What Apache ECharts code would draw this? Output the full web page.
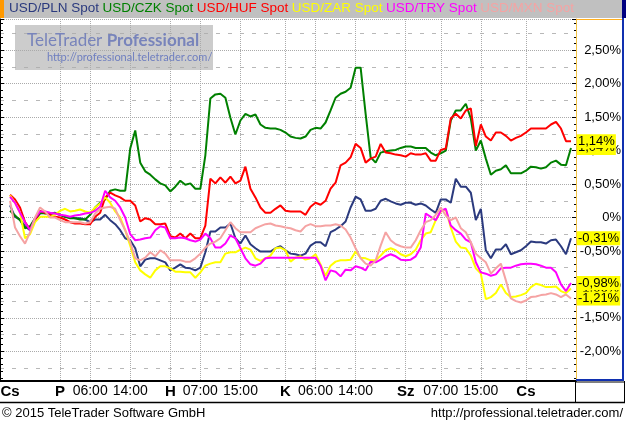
<!DOCTYPE html>
<html>
<head>
<meta charset="utf-8">
<script src="https://cdn.jsdelivr.net/npm/echarts@6/dist/echarts.min.js"></script>
<style>
html,body{margin:0;padding:0;background:#fff;}
#c{width:626px;height:424px;}
</style>
</head>
<body>
<div id="c"></div>
<script>
// ---- categories: hourly timestamps (weekend skipped) ----
const dayRanges = [['Cs', 12, 23], ['P', 0, 21], ['H', 1, 23], ['K', 0, 23], ['Sz', 0, 23], ['Cs', 0, 10]];
const categories = [];
dayRanges.forEach(function (d) {
  for (let h = d[1]; h <= d[2]; h++) categories.push(d[0] + ' ' + (h < 10 ? '0' : '') + h + ':00');
});

// ---- tick labels on the time axis ----
const xTickCats = ['Cs 14:00', 'P 00:00', 'P 06:00', 'P 14:00', 'H 01:00', 'H 07:00', 'H 15:00',
  'K 00:00', 'K 06:00', 'K 14:00', 'Sz 00:00', 'Sz 07:00', 'Sz 15:00', 'Cs 00:00'];
const xTickText = ['Cs', 'P', '06:00', '14:00', 'H', '07:00', '15:00', 'K', '06:00', '14:00', 'Sz', '07:00', '15:00', 'Cs'];
const xGridCats = xTickCats.slice(1);

// ---- series (percent change), first value at 'Cs 14:00' ----
const seriesNames = ['USD/PLN Spot', 'USD/CZK Spot', 'USD/HUF Spot', 'USD/ZAR Spot', 'USD/TRY Spot', 'USD/MXN Spot'];
const seriesColors = ['#2b3a7e', '#008000', '#ff0000', '#ffff00', '#ff00ff', '#f5a3a3'];

const pln = [0.18,0.01,-0.03,-0.13,-0.19,-0.04,0.06,0.07,0.06,0.06,
  0.04,0.01,0.00,-0.01,-0.01,-0.03,-0.07,-0.03,-0.03,0.04,
  -0.04,-0.10,-0.19,-0.31,-0.34,-0.46,-0.73,-0.63,-0.61,-0.61,
  -0.64,-0.67,-0.79,-0.75,-0.70,-0.75,-0.76,-0.79,-0.75,-0.52,
  -0.21,-0.21,-0.15,-0.15,-0.09,-0.31,-0.39,-0.27,-0.40,-0.46,
  -0.51,-0.51,-0.51,-0.46,-0.43,-0.49,-0.54,-0.55,-0.57,-0.54,
  -0.42,-0.37,-0.37,-0.43,-0.22,-0.18,-0.13,-0.06,0.15,0.31,
  0.27,0.10,0.10,0.13,0.25,0.28,0.24,0.21,0.19,0.22,
  0.22,0.19,0.21,0.18,0.12,0.07,0.27,0.27,0.22,0.58,
  0.46,0.46,0.37,-0.04,0.13,-0.49,-0.61,-0.48,-0.48,-0.40,
  -0.55,-0.52,-0.49,-0.43,-0.36,-0.37,-0.37,-0.39,-0.34,-0.33,
  -0.43,-0.55,-0.31];
const czk = [0.10,0.03,-0.04,-0.16,-0.13,-0.01,0.07,0.06,0.06,0.07,
  0.04,0.01,-0.01,-0.01,-0.03,-0.03,0.04,0.15,0.22,0.27,
  0.40,0.42,0.40,0.40,1.03,1.30,0.82,0.69,0.64,0.57,
  0.51,0.48,0.39,0.46,0.55,0.49,0.51,0.43,0.43,0.93,
  1.78,1.84,1.85,1.79,1.49,1.24,1.45,1.55,1.51,1.54,
  1.39,1.34,1.33,1.33,1.31,1.27,1.21,1.19,1.18,1.21,
  1.31,1.34,1.33,1.42,1.60,1.79,1.85,1.88,1.94,2.24,
  2.24,1.55,0.90,0.82,0.97,0.99,1.00,1.01,1.04,1.06,
  1.06,1.04,1.04,1.04,0.97,0.93,0.96,1.00,1.45,1.60,
  1.60,1.70,1.48,1.00,1.15,0.88,0.64,0.70,0.72,0.78,
  0.66,0.66,0.66,0.70,0.76,0.75,0.73,0.75,0.82,0.85,
  0.79,0.78,1.04];
const huf = [0.34,0.27,0.15,-0.07,-0.18,-0.04,0.10,0.07,0.04,0.01,
  0.00,-0.03,-0.07,-0.09,-0.09,-0.10,-0.10,0.01,0.07,0.30,
  0.37,0.33,0.30,0.25,0.25,0.18,-0.06,-0.01,-0.03,-0.10,
  -0.10,-0.09,-0.28,-0.30,-0.24,-0.31,-0.24,-0.31,-0.31,-0.12,
  0.58,0.51,0.60,0.52,0.61,0.51,0.55,0.76,0.43,0.30,
  0.15,0.07,0.07,0.13,0.18,0.10,0.09,0.09,0.09,0.04,
  0.16,0.22,0.19,0.25,0.43,0.52,0.78,0.82,0.90,1.10,
  1.04,0.82,0.88,0.91,1.10,0.97,0.96,0.94,0.93,0.91,
  0.96,0.94,0.94,0.96,0.85,0.85,1.01,1.03,1.48,1.55,
  1.48,1.60,1.63,1.07,1.39,1.21,1.15,1.27,1.27,1.22,
  1.15,1.19,1.22,1.27,1.33,1.33,1.33,1.33,1.39,1.43,
  1.33,1.14,1.14];
const zar = [0.33,0.22,0.07,-0.31,-0.25,-0.07,0.01,0.01,0.01,0.04,
  0.10,0.13,0.09,0.10,0.12,0.09,0.07,0.15,0.21,0.30,
  0.22,0.09,0.00,-0.19,-0.42,-0.67,-0.79,-0.85,-0.90,-0.79,
  -0.73,-0.73,-0.76,-0.81,-0.81,-0.82,-0.82,-0.90,-0.82,-0.72,
  -0.69,-0.67,-0.67,-0.54,-0.52,-0.52,-0.48,-0.45,-0.48,-0.61,
  -0.65,-0.61,-0.57,-0.46,-0.45,-0.49,-0.66,-0.60,-0.58,-0.63,
  -0.61,-0.55,-0.70,-0.87,-0.72,-0.66,-0.64,-0.64,-0.63,-0.51,
  -0.60,-0.61,-0.64,-0.64,-0.57,-0.49,-0.46,-0.49,-0.55,-0.58,
  -0.55,-0.48,-0.34,-0.24,-0.22,-0.04,0.09,0.12,-0.15,-0.36,
  -0.45,-0.46,-0.57,-0.76,-0.84,-1.22,-1.19,-1.13,-1.00,-1.13,
  -1.19,-1.18,-1.16,-1.13,-1.04,-0.99,-1.01,-1.04,-1.04,-1.03,
  -1.10,-1.13,-1.06];
const tryv = [0.31,0.22,0.07,-0.07,-0.19,-0.01,0.09,0.09,0.07,0.06,
  0.04,0.03,0.01,0.03,0.04,0.06,0.07,0.10,0.16,0.40,
  0.30,0.25,0.15,0.00,-0.25,-0.34,-0.33,-0.31,-0.30,-0.19,
  -0.13,-0.15,-0.31,-0.31,-0.30,-0.31,-0.34,-0.36,-0.33,-0.24,
  -0.31,-0.45,-0.45,-0.39,-0.27,-0.31,-0.46,-0.61,-0.70,-0.72,
  -0.69,-0.61,-0.60,-0.60,-0.60,-0.60,-0.60,-0.60,-0.60,-0.60,
  -0.60,-0.60,-0.72,-0.94,-0.79,-0.81,-0.88,-0.78,-0.79,-0.73,
  -0.75,-0.79,-0.66,-0.67,-0.63,-0.58,-0.55,-0.58,-0.63,-0.64,
  -0.63,-0.58,-0.45,0.06,0.01,-0.04,0.10,0.13,-0.12,-0.19,
  -0.24,-0.33,-0.37,-0.67,-0.82,-0.84,-0.87,-0.85,-0.76,-0.75,
  -0.75,-0.72,-0.70,-0.69,-0.69,-0.70,-0.72,-0.75,-0.75,-0.82,
  -1.00,-1.10,-0.98];
const mxn = [0.25,-0.15,-0.28,-0.39,-0.22,0.00,0.15,0.09,0.00,0.00,
  -0.04,-0.07,-0.07,-0.07,-0.07,-0.09,-0.07,0.06,0.13,0.15,
  0.16,0.13,-0.04,-0.19,-0.37,-0.61,-0.64,-0.60,-0.52,-0.58,
  -0.49,-0.54,-0.64,-0.64,-0.64,-0.66,-0.66,-0.61,-0.54,-0.45,
  -0.39,-0.36,-0.31,-0.19,-0.07,-0.16,-0.22,-0.22,-0.22,-0.16,
  -0.13,-0.10,-0.09,-0.12,-0.13,-0.15,-0.16,-0.19,-0.21,-0.13,
  -0.10,-0.13,-0.13,-0.12,-0.12,-0.10,-0.12,-0.18,-0.30,-0.46,
  -0.61,-0.69,-0.72,-0.64,-0.42,-0.22,-0.34,-0.40,-0.43,-0.45,
  -0.45,-0.34,-0.19,-0.07,-0.04,0.04,0.15,0.03,-0.04,0.00,
  -0.16,-0.22,-0.37,-0.54,-0.61,-0.67,-0.84,-0.76,-0.69,-0.94,
  -1.21,-1.25,-1.27,-1.24,-1.19,-1.18,-1.16,-1.15,-1.13,-1.15,
  -1.19,-1.15,-1.21];
const seriesValues = [pln, czk, huf, zar, tryv, mxn];
const firstCat = 'Cs 14:00';

// ---- value axis range (percent) ----
const yMin = -2.444, yMax = 2.967;

function fmtPct(v) {
  if (Math.abs(v) < 1e-9) return '0%';
  return v.toFixed(2).replace('.', ',') + '%';
}

const FONT = 'Liberation Sans, Arial, sans-serif';
const labelMap = {};
xTickCats.forEach(function (c, i) { labelMap[c] = xTickText[i]; });
const gridSet = {};
xGridCats.forEach(function (c) { gridSet[c] = true; });
const startIdx = categories.indexOf(firstCat);

const chart = echarts.init(document.getElementById('c'), null, { renderer: 'canvas' });

const series = seriesNames.map(function (name, i) {
  const data = [];
  for (let k = 0; k < startIdx; k++) data.push(null);
  seriesValues[i].forEach(function (v) { data.push(v); });
  return {
    name: name,
    type: 'line',
    data: data,
    yAxisIndex: 0,
    symbol: 'none',
    showSymbol: false,
    lineStyle: { width: 2, color: seriesColors[i] },
    itemStyle: { color: seriesColors[i] },
    emphasis: { disabled: true },
    z: 2 + i,
    endLabel: {
      show: true,
      formatter: function (p) { return fmtPct(p.value); },
      backgroundColor: '#ffff00',
      color: '#000',
      fontFamily: FONT,
      fontSize: 13,
      padding: [1, 1, 0, 1],
      distance: 6
    }
  };
});

const yCommon = { type: 'value', min: yMin, max: yMax, splitNumber: 10 };

chart.setOption({
  animation: false,
  textStyle: { fontFamily: FONT },
  legend: {
    top: 1, left: 3, padding: 0,
    itemWidth: 0, itemHeight: 0, itemGap: -2.5,
    selectedMode: false,
    textStyle: { fontSize: 13.5, fontFamily: FONT },
    data: seriesNames.map(function (n, i) { return { name: n, textStyle: { color: seriesColors[i] } }; })
  },
  grid: { left: 0, right: 50, top: 19, bottom: 43, containLabel: false, outerBoundsMode: 'none' },
  xAxis: {
    type: 'category',
    data: categories,
    boundaryGap: false,
    axisLine: { show: true, onZero: false, lineStyle: { color: '#000', width: 2 } },
    axisTick: { show: false },
    axisLabel: {
      interval: function (idx, val) { return labelMap[val] !== undefined; },
      margin: 3,
      formatter: function (val) {
        const t = labelMap[val];
        if (t === undefined) return '';
        return t.indexOf(':') >= 0 ? '{t|' + t + '}' : '{d|' + t + '}';
      },
      rich: {
        d: { fontWeight: 'bold', fontSize: 15, color: '#000', fontFamily: FONT },
        t: { fontSize: 14, color: '#000', fontFamily: FONT }
      }
    },
    splitLine: {
      show: true,
      interval: function (idx, val) { return gridSet[val] === true; },
      lineStyle: { color: '#aaaaaa', type: [1, 1], width: 1 }
    }
  },
  yAxis: [
    Object.assign({}, yCommon, {
      position: 'right',
      axisLine: { show: true, onZero: false, lineStyle: { color: '#f0c040', width: 1 } },
      axisTick: { show: true, inside: true, length: 4, lineStyle: { color: '#000' } },
      minorTick: { show: true, splitNumber: 5, length: 2, lineStyle: { color: '#000' } },
      axisLabel: {
        show: true, align: 'right', margin: 45, fontSize: 13, color: '#000', fontFamily: FONT,
        showMinLabel: false, showMaxLabel: false,
        formatter: function (v) { return fmtPct(v); }
      },
      splitLine: { show: true, lineStyle: { color: '#aaaaaa', type: [1, 1], width: 1 } }
    }),
    Object.assign({}, yCommon, {
      position: 'left',
      axisLine: { show: true, onZero: false, lineStyle: { color: '#000', width: 1 } },
      axisTick: { show: true, inside: true, length: 4, lineStyle: { color: '#000' } },
      minorTick: { show: true, splitNumber: 5, length: 3, lineStyle: { color: '#000' } },
      axisLabel: { show: false },
      splitLine: { show: false }
    }),
    Object.assign({}, yCommon, {
      position: 'right',
      axisLine: { show: false, onZero: false },
      axisTick: { show: false },
      axisLabel: { show: false },
      splitLine: { show: false },
      minorTick: { show: false, splitNumber: 2 },
      minorSplitLine: { show: true, lineStyle: { color: '#b8b8b8', type: [4, 8], width: 1 } }
    })
  ],
  series: series,
  graphic: [
    { type: 'rect', z: -5, shape: { x: 0, y: 0, width: 626, height: 18 }, style: { fill: '#c0c0c0' } },
    { type: 'rect', z: 10, shape: { x: 0, y: 0, width: 4, height: 18 }, style: { fill: '#ff9900' } },
    { type: 'rect', z: 10, shape: { x: 622, y: 0, width: 4, height: 18 }, style: { fill: '#000080' } },
    { type: 'line', z: 10, shape: { x1: 576, y1: 19.5, x2: 622, y2: 19.5 }, style: { stroke: '#ffb020', lineWidth: 1 } },
    { type: 'line', z: 10, shape: { x1: 623, y1: 18, x2: 623, y2: 381 }, style: { stroke: '#1030b0', lineWidth: 2 } },
    { type: 'line', z: 10, shape: { x1: 576, y1: 380, x2: 624, y2: 380 }, style: { stroke: '#1030b0', lineWidth: 2 } },
    { type: 'line', z: 10, shape: { x1: 576, y1: 382, x2: 625, y2: 382 }, style: { stroke: '#000', lineWidth: 1 } },
    { type: 'line', z: 10, shape: { x1: 0, y1: 402.5, x2: 625, y2: 402.5 }, style: { stroke: '#000', lineWidth: 1.5 } },
    { type: 'line', z: 10, shape: { x1: 575.5, y1: 381, x2: 575.5, y2: 403 }, style: { stroke: '#000', lineWidth: 1 } },
    { type: 'line', z: 10, shape: { x1: 624.5, y1: 381, x2: 624.5, y2: 403 }, style: { stroke: '#000', lineWidth: 1 } },
    { type: 'text', z: 10, x: 2, y: 413, style: { text: '\u00a9 2015 TeleTrader Software GmbH', font: '13px ' + FONT, fill: '#000', textVerticalAlign: 'middle', verticalAlign: 'middle' } },
    { type: 'text', z: 10, x: 623, y: 413, style: { text: 'http://professional.teletrader.com/', font: '13px ' + FONT, fill: '#000', align: 'right', textAlign: 'right', verticalAlign: 'middle', textVerticalAlign: 'middle' } },
    { type: 'rect', z: 1, shape: { x: 15, y: 25, width: 198, height: 45 }, style: { fill: 'rgba(170,170,170,0.6)' } },
    { type: 'text', z: 1, x: 27, y: 41, style: {
      text: '{a|TeleTrader }{b|Professional}', verticalAlign: 'middle',
      rich: { a: { fontSize: 17, fontFamily: 'Lato', fill: '#7884bb', color: '#7884bb' },
              b: { fontSize: 17, fontFamily: 'Lato', fontWeight: 'bold', fill: '#7884bb', color: '#7884bb' } } } },
    { type: 'text', z: 1, x: 47, y: 57, style: { text: 'http://professional.teletrader.com/', font: '11px Lato', fill: '#6f7fc0', verticalAlign: 'middle' } }
  ]
});
</script>
</body>
</html>
